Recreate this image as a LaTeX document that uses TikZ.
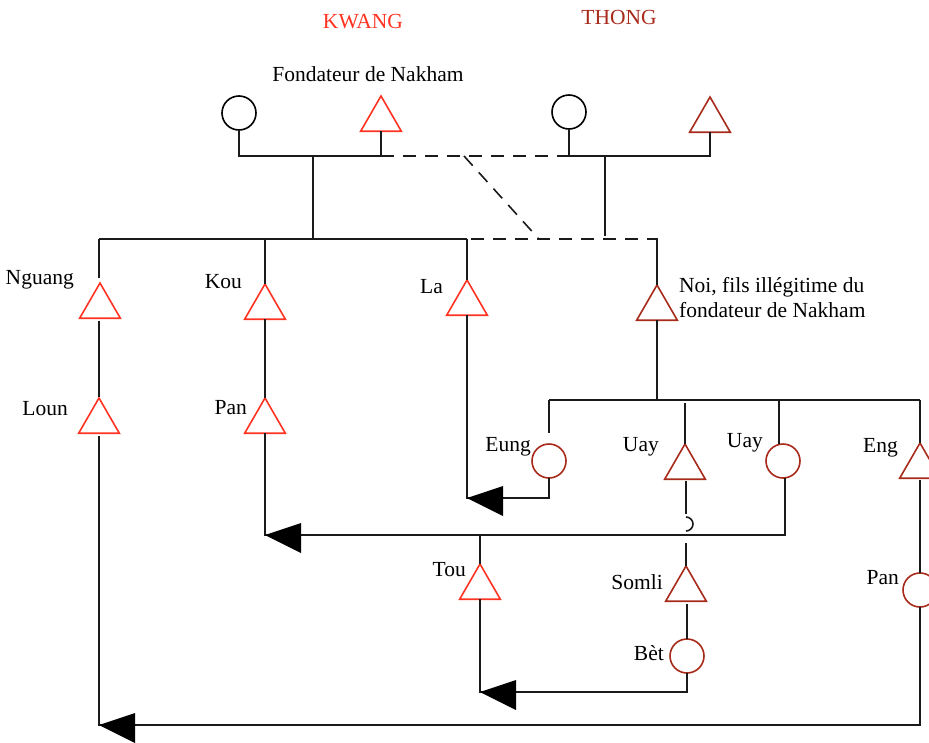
\documentclass[tikz,border=0pt]{standalone}
\usepackage{fontspec}
\setmainfont{Liberation Serif}
\usetikzlibrary{shapes.geometric}
\definecolor{kred}{HTML}{FF3322}
\definecolor{tred}{HTML}{A82A1A}
\definecolor{lk}{HTML}{1A1A1A}
\begin{document}
\begin{tikzpicture}[x=1pt,y=-1pt,
  tri/.style={regular polygon, regular polygon sides=3, minimum size=47pt, inner sep=0pt, outer sep=0pt, draw, line width=1.6pt},
  circ/.style={circle, minimum size=34pt, inner sep=0pt, outer sep=0pt, draw, line width=1.6pt},
  lbl/.style={font=\fontsize{21.5}{25}\selectfont, inner sep=0pt},
  ln/.style={line width=1.6pt, draw=lk},
  dsh/.style={ln, dash pattern=on 13pt off 9pt},
  arr/.style={fill=black},
]
\useasboundingbox (0,0) rectangle (929,742);

% titles
\node[lbl, text=kred] (kwang) at (363,22) {KWANG};
\node[lbl, text=tred] (thong) at (619,17) {THONG};
\node[lbl] (fond) at (368,74) {Fondateur de Nakham};

% top generation
\node[circ] (ca) at (239,113) {};
\node[tri, draw=kred, anchor=corner 1] (tb) at (381,96) {};
\node[circ] (cc) at (569,112) {};
\node[tri, draw=tred, anchor=corner 1] (td) at (710,97) {};

% second generation
\node[tri, draw=kred, anchor=corner 1] (nguang) at (100,283) {};
\node[lbl, anchor=east] (lnguang) at (74,280) {Nguang};
\node[tri, draw=kred, anchor=corner 1] (kou) at (265,284) {};
\node[lbl, anchor=east] (lkou) at (242,282) {Kou};
\node[tri, draw=kred, anchor=corner 1] (la) at (467,280) {};
\node[lbl, anchor=east] (lla) at (443,287) {La};
\node[tri, draw=tred, anchor=corner 1] (noi) at (657,285) {};
\node[lbl, anchor=west, align=left] (lnoi) at (679,298) {Noi, fils ill\'egitime du\\fondateur de Nakham};

% third generation (Kwang)
\node[tri, draw=kred, anchor=corner 1] (loun) at (99,398) {};
\node[lbl, anchor=east] (lloun) at (68,409) {Loun};
\node[tri, draw=kred, anchor=corner 1] (pank) at (265,398) {};
\node[lbl, anchor=east] (lpank) at (247,408) {Pan};

% Noi's children
\node[circ, draw=tred] (eung) at (549,461) {};
\node[lbl, anchor=east] (leung) at (531,447) {Eung};
\node[tri, draw=tred, anchor=corner 1] (uayt) at (685,444) {};
\node[lbl, anchor=east] (luayt) at (659,447) {Uay};
\node[circ, draw=tred] (uayc) at (783,461) {};
\node[lbl, anchor=east] (luayc) at (763,443) {Uay};
\node[tri, draw=tred, anchor=corner 1] (eng) at (920,443) {};
\node[lbl, anchor=east] (leng) at (898,448) {Eng};
\node[circ, draw=tred] (panc) at (920,590) {};
\node[lbl, anchor=east] (lpanc) at (899,578) {Pan};

% fourth generation
\node[tri, draw=kred, anchor=corner 1] (tou) at (480,564) {};
\node[lbl, anchor=east] (ltou) at (466,570) {Tou};
\node[tri, draw=tred, anchor=corner 1] (somli) at (686,566) {};
\node[lbl, anchor=east] (lsomli) at (663,582) {Somli};
\node[circ, draw=tred] (bet) at (687,656) {};
\node[lbl, anchor=east] (lbet) at (664,653) {B\`et};

% coordinates
\coordinate (mk) at (313,156);
\coordinate (mt) at (605,157);
\coordinate (dgA) at (464,156);
\coordinate (dgB) at (538,238);
\coordinate (bar2) at (313,239);
\coordinate (bar3) at (657,400);
\coordinate (hopt) at (686,517);
\coordinate (hrow) at (0,535);
\coordinate (bot) at (0,725);
\coordinate (er) at (0,498);
\coordinate (br) at (0,692);

% top marriages
\draw[ln] (ca.south) -- (ca.south |- mk) -- (tb.side 2 |- mk) -- (tb.side 2);
\draw[dsh] (tb.side 2 |- mk) -- (cc.south |- mk);
\draw[ln] (cc.south) -- (cc.south |- mk) -- (td.side 2 |- mk) -- (td.side 2);
\draw[dsh] (dgA) -- (dgB);
\draw[ln] (mk) -- (bar2);
\draw[ln] (mt) -- ([yshift=3pt]mt |- bar2);

% second generation bar
\draw[ln] (loun.corner 1 |- bar2) -- (la.corner 1 |- bar2);
\draw[ln] (loun.corner 1 |- bar2) -- ([yshift=5pt]loun.corner 1 |- nguang.corner 1);
\draw[ln] (kou.corner 1 |- bar2) -- (kou.corner 1);
\draw[ln] (la.corner 1 |- bar2) -- (la.corner 1);
\draw[dsh] ([xshift=4pt]la.corner 1 |- bar2) -- (noi.corner 1 |- bar2);
\draw[ln] ([yshift=0.8pt]noi.corner 1 |- bar2) -- (noi.corner 1);

% descent lines
\draw[ln] ([yshift=-3pt]loun.corner 1 |- nguang.side 2) -- ([yshift=1pt]loun.corner 1);
\draw[ln] (kou.side 2) -- (pank.corner 1);

% Noi's sibship
\draw[ln] (noi.side 2) -- (bar3);
\draw[ln] (eung.north |- bar3) -- (eng.corner 1 |- bar3);
\draw[ln] (eung.north |- bar3) -- ([yshift=11pt]eung.north);
\draw[ln] ([yshift=-3pt]uayt.corner 1 |- bar3) -- (uayt.corner 1);
\draw[ln] ([xshift=-4pt]uayc.north |- bar3) -- ([xshift=-4pt]uayc.north);
\draw[ln] (eng.corner 1 |- bar3) -- (eng.corner 1);
\draw[ln] ([yshift=-2pt]eng.side 2) -- (panc.north);

% Uay to Somli with line hop
\draw[ln] ([xshift=1pt, yshift=-2pt]uayt.side 2) -- ([yshift=3pt]hopt);
\draw[ln] (hopt) arc[start angle=90, end angle=-90, radius=7pt];
\draw[ln] ([yshift=-8pt]somli.corner 1 |- hrow) -- (somli.corner 1);
\draw[ln] ([yshift=-3pt]bet.north |- somli.side 2) -- (bet.north);

% marriages back (with arrows)
\draw[ln] (la.side 2) -- (la.side 2 |- er) -- (eung.south |- er) -- (eung.south);
\fill[arr] (la.side 2 |- er) -- ++(36,-12) -- ++(0,30) -- cycle;

\draw[ln] (pank.side 2) -- (pank.side 2 |- hrow) -- ([xshift=2pt]uayc.south |- hrow) -- ([xshift=2pt]uayc.south);
\fill[arr] (pank.side 2 |- hrow) -- ++(36,-12) -- ++(0,30) -- cycle;
\draw[ln] (tou.corner 1 |- hrow) -- (tou.corner 1);

\draw[ln] (tou.side 2) -- (tou.side 2 |- br) -- (bet.south |- br) -- (bet.south);
\fill[arr] (tou.side 2 |- br) -- ++(36,-12) -- ++(0,30) -- cycle;

\draw[ln] ([yshift=-3pt]loun.side 2) -- (loun.side 2 |- bot) -- (panc.south |- bot) -- (panc.south);
\fill[arr] (loun.side 2 |- bot) -- ++(36,-12) -- ++(0,30) -- cycle;
\end{tikzpicture}
\end{document}
